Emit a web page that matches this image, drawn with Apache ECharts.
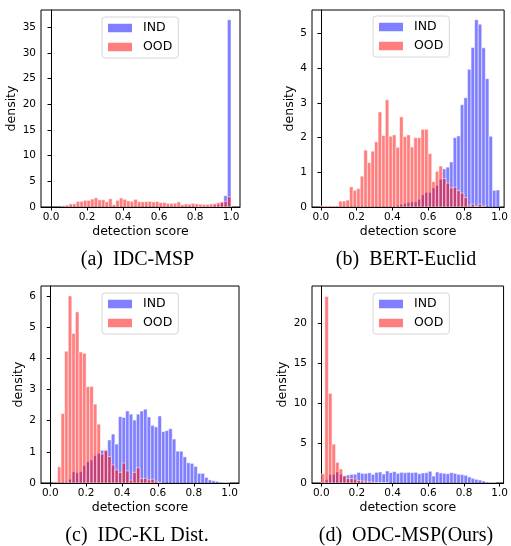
<!DOCTYPE html>
<html>
<head>
<meta charset="utf-8">
<script src="https://cdn.jsdelivr.net/npm/echarts@6/dist/echarts.min.js"></script>
<style>
  html, body { margin: 0; padding: 0; background: #fff; }
  #chart { width: 511px; height: 546px; }
</style>
</head>
<body>
<div id="chart"></div>
<script>
// histogram bins: 50 bins of width 0.02 over [0, 1]
const binWidth = 0.02;

// (a) IDC-MSP
const idcMspIND = [0,0,0,0,0,0,0,0,0,0, 0,0,0,0,0,0,0,0,0,0, 0,0,0,0,0,0,0,0,0,0,
  0,0,0,0,0,0,0,0,0,0, 0.03,0.05,0.1,0.15,0.2,0.3,0.45,0.8,2.2,36.5];
const idcMspOOD = [0,0,0,0.25,0.35,0.6,0.65,1.1,1.1,1.3, 1.3,1.55,1.8,1.4,1.4,1.0,1.6,0.45,1.3,1.75,
  1.5,1.2,1.1,1.5,1.05,1.0,1.05,1.1,1.0,1.05, 0.85,0.9,0.7,0.7,0.75,1.0,0.45,0.6,0.55,0.7,
  0.6,0.55,0.5,0.5,0.6,0.65,0.85,1.0,1.1,2.0];

// (b) BERT-Euclid
const bertIND = [0,0,0,0,0,0,0,0,0,0, 0,0,0,0,0,0,0,0,0,0,
  0.03,0.05,0.08,0.1,0.13,0.15,0.15,0.22,0.35,0.42, 0.42,0.55,0.62,0.8,1.1,1.15,1.3,2.0,2.05,2.95,
  3.15,3.97,4.6,5.4,5.27,4.59,3.7,2.04,0.48,0.49];
const bertOOD = [0.03,0.03,0.03,0.03,0.03,0.17,0.17,0.2,0.58,0.48, 0.53,0.89,1.64,1.28,1.61,1.88,2.74,2.06,3.09,2.04,
  2.08,1.72,2.6,2.03,2.08,1.73,2.0,2.0,2.24,2.24, 1.54,0.73,1.03,1.18,0.82,0.69,0.55,0.57,0.47,0.4,
  0.27,0.05,0.08,0.02,0.08,0.03,0,0,0,0];

// (c) IDC-KL Dist.
const klIND = [0,0,0,0,0.04,0.12,0.36,0.33,0.36,0.56, 0.68,0.74,0.88,0.95,1.05,1.06,1.38,1.57,1.25,2.13,
  2.1,2.31,2.21,2.02,2.21,2.31,2.37,2.12,1.85,1.8, 2.15,1.65,1.68,1.74,1.41,1.02,1.02,0.84,0.65,0.63,
  0.53,0.31,0.31,0.18,0.1,0.07,0.05,0.03,0.02,0.01];
const klOOD = [0,0.04,0.52,2.23,4.23,6.0,4.8,5.49,4.2,4.16, 3.09,3.1,2.53,1.89,0.93,1.04,0.85,0.58,0.42,0.34,
  0.64,0.39,0.09,0.34,0.49,0.14,0.15,0.1,0.12,0.06, 0.02,0,0,0,0,0,0,0,0,0,
  0,0,0,0,0,0,0,0,0,0];

// (d) ODC-MSP(Ours)
const odcIND = [0.05,0.4,1.04,1.08,1.37,1.08,0.87,1.0,1.08,1.1, 1.33,1.2,1.2,1.27,1.08,1.33,1.37,1.12,1.5,1.29,
  1.42,1.2,1.33,1.29,1.33,1.29,1.33,1.16,1.25,1.29, 1.46,0.87,1.37,1.25,1.2,1.16,1.29,1.2,1.08,1.04,
  0.96,0.75,0.58,0.46,0.37,0.25,0.12,0.04,0.02,0];
const odcOOD = [1.15,23.3,11.2,4.85,2.58,1.75,0.9,0.55,0.55,0.5, 0.3,0.25,0.2,0.15,0.1,0.08,0.05,0.03,0.02,0,
  0,0,0,0,0,0,0,0,0,0, 0,0,0,0,0,0,0,0,0,0,
  0,0,0,0,0,0,0,0,0,0];

const xTicks = [0, 0.2, 0.4, 0.6, 0.8, 1.0];
const yTicks = [
  [0, 5, 10, 15, 20, 25, 30, 35],
  [0, 1, 2, 3, 4, 5],
  [0, 1, 2, 3, 4, 5, 6],
  [0, 5, 10, 15, 20]
];
const panelTitles = ['(a)  IDC-MSP', '(b)  BERT-Euclid', '(c)  IDC-KL Dist.', '(d)  ODC-MSP(Ours)'];
const panelData = [
  [idcMspIND, idcMspOOD],
  [bertIND, bertOOD],
  [klIND, klOOD],
  [odcIND, odcOOD]
];

// layout of the four axes (pixels) and their value ranges
const panels = [
  { left: 41, top: 10, width: 199, height: 197, xMin: -0.0556, xMax: 1.05, yMax: 38.4, nameGap: 15, legend: [102, 17] },
  { left: 312, top: 10, width: 194, height: 197, xMin: -0.05, xMax: 1.025, yMax: 5.68, nameGap: 12, legend: [373, 16] },
  { left: 41, top: 286, width: 198, height: 197, xMin: -0.0517, xMax: 1.052, yMax: 6.32, nameGap: 11, legend: [102, 293] },
  { left: 312, top: 286, width: 194, height: 197, xMin: -0.052, xMax: 1.022, yMax: 24.6, nameGap: 15, legend: [373, 293] }
];

const IND_COLOR = 'rgba(0,0,255,0.5)';
const OOD_COLOR = 'rgba(255,0,0,0.5)';
const SANS = 'DejaVu Sans';

function toBins(values) {
  return values.map((v, i) => [i * binWidth, (i + 1) * binWidth, v]);
}

function renderBar(params, api) {
  const h = api.value(2);
  if (!h) return null;
  const p0 = api.coord([api.value(0), 0]);
  const p1 = api.coord([api.value(1), h]);
  return {
    type: 'rect',
    shape: { x: p0[0], y: p1[1], width: p1[0] - p0[0], height: p0[1] - p1[1] },
    style: {
      fill: api.visual('color'),
      stroke: 'rgba(255,255,255,0.5)',
      lineWidth: 1
    }
  };
}

const chart = echarts.init(document.getElementById('chart'), null, { renderer: 'canvas' });

let grids = [], xAxes = [], yAxes = [], series = [], legends = [], graphics = [];
panels.forEach((p, k) => {
  grids.push({
    left: p.left, top: p.top, width: p.width, height: p.height,
    show: true, borderColor: '#000', borderWidth: 1, backgroundColor: 'transparent'
  });
  xAxes.push({
    type: 'value', gridIndex: k, min: p.xMin, max: p.xMax,
    name: 'detection score', nameLocation: 'middle', nameGap: 18,
    nameTextStyle: { fontFamily: SANS, fontSize: 12.5, color: '#000' },
    axisLine: { show: true, lineStyle: { color: '#000', width: 1 } },
    axisTick: { show: true, length: 3.5, lineStyle: { color: '#000' }, customValues: xTicks },
    axisLabel: {
      fontFamily: SANS, fontSize: 10.5, color: '#000', margin: 5,
      customValues: xTicks, formatter: v => v.toFixed(1)
    },
    splitLine: { show: false }
  });
  yAxes.push({
    type: 'value', gridIndex: k, min: 0, max: p.yMax,
    name: 'density', nameLocation: 'middle', nameGap: p.nameGap, nameRotate: 90,
    nameTextStyle: { fontFamily: SANS, fontSize: 12.5, color: '#000' },
    axisLine: { show: true, lineStyle: { color: '#000', width: 1 } },
    axisTick: { show: true, length: 3.5, lineStyle: { color: '#000' }, customValues: yTicks[k] },
    axisLabel: {
      fontFamily: SANS, fontSize: 10.5, color: '#000', margin: 5,
      customValues: yTicks[k]
    },
    splitLine: { show: false }
  });
  series.push({
    type: 'custom', name: 'IND', xAxisIndex: k, yAxisIndex: k,
    itemStyle: { color: IND_COLOR }, renderItem: renderBar, clip: true,
    encode: { x: [0, 1], y: 2 }, data: toBins(panelData[k][0])
  });
  series.push({
    type: 'custom', name: 'OOD', xAxisIndex: k, yAxisIndex: k,
    itemStyle: { color: OOD_COLOR }, renderItem: renderBar, clip: true,
    encode: { x: [0, 1], y: 2 }, data: toBins(panelData[k][1])
  });
  legends.push({
    left: p.legend[0], top: p.legend[1], orient: 'vertical',
    data: [{ name: 'IND', icon: 'rect' }, { name: 'OOD', icon: 'rect' }],
    itemWidth: 24, itemHeight: 8.5, itemGap: 5,
    padding: [4, 6, 4, 6],
    borderColor: '#d6d6d6', borderWidth: 1, borderRadius: 3,
    backgroundColor: 'rgba(255,255,255,0.8)',
    textStyle: { fontFamily: SANS, fontSize: 12.5, color: '#000', lineHeight: 14, padding: [0, 0, 0, 6] }
  });
  graphics.push({
    type: 'text',
    x: p.left + p.width / 2 - 3,
    y: p.top + p.height + 53,
    style: {
      text: panelTitles[k],
      font: '20px "Liberation Serif"',
      fill: '#000',
      align: 'center', verticalAlign: 'middle',
      textAlign: 'center', textVerticalAlign: 'middle'
    }
  });
});

const option = {
  animation: false,
  grid: grids,
  xAxis: xAxes,
  yAxis: yAxes,
  legend: legends,
  series: series,
  graphic: graphics
};
chart.setOption(option);
</script>
</body>
</html>
